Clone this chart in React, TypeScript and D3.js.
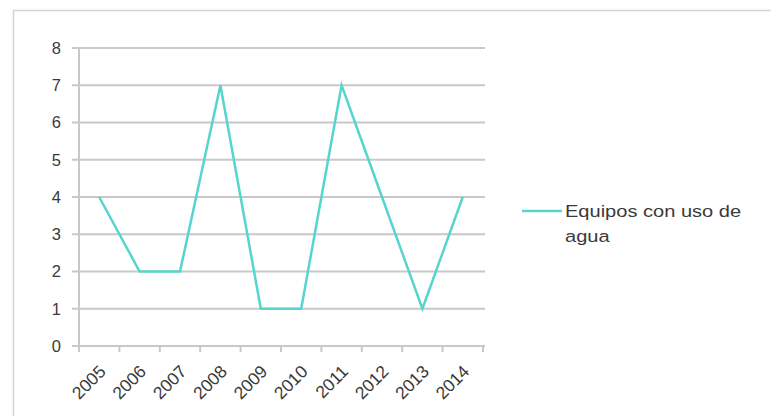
import React from "react";
import * as d3 from "d3";

const years = ["2005", "2006", "2007", "2008", "2009", "2010", "2011", "2012", "2013", "2014"];
const values = [4, 2, 2, 7, 1, 1, 7, 4, 1, 4];
const yTicks = [0, 1, 2, 3, 4, 5, 6, 7, 8];
const seriesName = ["Equipos con uso de", "agua"];

const W = 771;
const H = 416;
const plot = { left: 79, right: 483, top: 48, bottom: 346 };
const lineColor = "#56d5cf";
const gridColor = "#c8c8c8";
const textColor = "#3a3a3a";
const font = "'Liberation Sans', Arial, sans-serif";

export default function App() {
  const x = d3.scaleBand<string>().domain(years).range([plot.left, plot.right]);
  const y = d3.scaleLinear().domain([0, 8]).range([plot.bottom, plot.top]);
  const line = d3
    .line<number>()
    .x((_, i) => (x(years[i]) as number) + x.bandwidth() / 2)
    .y((d) => y(d));

  const boundaries = years.map((yr) => x(yr) as number).concat([plot.right]);

  return (
    <div style={{ position: "fixed", left: 0, top: 0 }}>
      <svg width={W} height={H} style={{ display: "block", background: "#fff" }}>
        <rect x={13.5} y={10.5} width={W} height={H} fill="#fff" stroke="#d4d4d4" strokeWidth={1.5} />
        {yTicks.map((t) => (
          <g key={t}>
            <line x1={72} x2={485} y1={y(t)} y2={y(t)} stroke={gridColor} strokeWidth={2} />
            <text x={61} y={y(t)} dy="0.36em" textAnchor="end" fontFamily={font} fontSize={16.5} fill={textColor}>
              {t}
            </text>
          </g>
        ))}
        <line x1={plot.left} x2={plot.left} y1={plot.top} y2={plot.bottom} stroke={gridColor} strokeWidth={2} />
        {boundaries.map((bx, i) => (
          <line key={i} x1={bx} x2={bx} y1={plot.bottom} y2={plot.bottom + 6} stroke={gridColor} strokeWidth={2} />
        ))}
        {years.map((yr) => {
          const cx = (x(yr) as number) + x.bandwidth() / 2 - 1;
          const cy = plot.bottom + 18;
          return (
            <text
              key={yr}
              x={cx}
              y={cy}
              transform={`rotate(-45 ${cx} ${cy})`}
              textAnchor="end"
              dy="0.7em"
              fontFamily={font}
              fontSize={17.5}
              fill={textColor}
            >
              {yr}
            </text>
          );
        })}
        <path d={line(values) || ""} fill="none" stroke={lineColor} strokeWidth={2.5} strokeLinejoin="miter" />
        <line x1={522} x2={562} y1={211} y2={211} stroke={lineColor} strokeWidth={2.5} />
        <g transform="translate(565,0) scale(1.18,1)">
          <text fontFamily={font} fontSize={17} fill={textColor}>
            <tspan x={0} y={217}>{seriesName[0]}</tspan>
            <tspan x={0} y={242}>{seriesName[1]}</tspan>
          </text>
        </g>
      </svg>
    </div>
  );
}
